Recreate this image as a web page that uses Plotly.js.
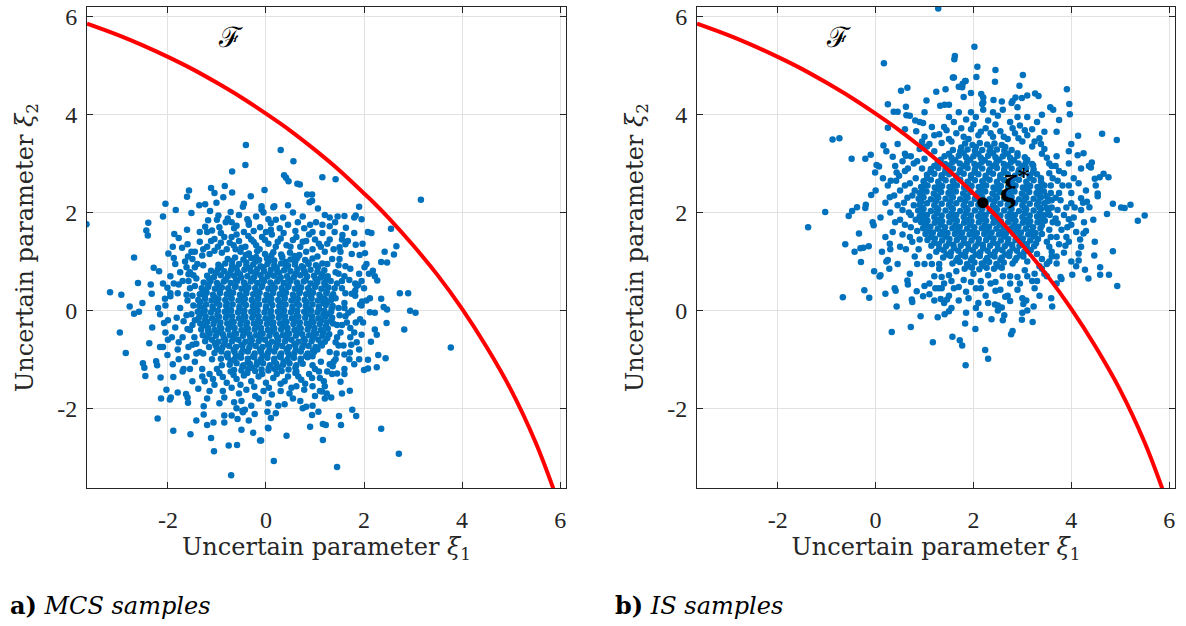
<!DOCTYPE html>
<html><head><meta charset="utf-8">
<script src="https://cdn.plot.ly/plotly-3.0.1.min.js"></script>
<style>html,body{margin:0;padding:0;background:#fff;}#chart{width:1186px;height:626px;}</style>
</head><body><div id="chart"></div>
<script>
// ---- Tick labels ----
const tickVals = [-2, 0, 2, 4, 6];
const tickText = ["-2", "0", "2", "4", "6"];

// ---- Limit-state boundary ----
const curveX = [-3.65,-3,-2.5,-2,-1.5,-1,-0.5,0,0.5,1,1.5,2,2.2,2.5,3,3.5,4,4.5,5,5.5,5.86];
const curveY = [5.86,5.62,5.41,5.18,4.93,4.65,4.35,4.02,3.67,3.28,2.86,2.39,2.2,1.89,1.33,0.72,0.03,-0.75,-1.63,-2.70,-3.64];

// ---- Design point ----
const designX = [2.19];
const designY = [2.2];

// ---- a) MCS samples [xi1, xi2] ----
const mcsPoints = [
[-3.66,1.76],[-0.41,3.38],[-0.42,2.97],[-0.69,2.84],[-0.84,2.54],[-1.57,2.45],[-1.61,2.32],[-1.12,2.50],[-1.05,2.40],[-0.69,2.41],[-0.03,2.46],[-0.31,2.33],[-2.05,2.18],[-1.84,2.05],[-2.10,1.92],[-2.40,1.79],[-2.44,1.63],[-2.41,1.53],[-2.69,1.08],[-2.29,0.87],[-2.18,0.80],[-2.61,0.56],[-3.18,0.37],[-2.95,0.32],[-2.78,0.08],[-2.52,0.15],[-2.69,-0.07],[-2.59,-0.03],[-2.33,0.34],[-2.35,0.53],[-1.99,1.16],[-1.88,1.07],[-1.87,1.56],[-1.78,1.48],[-1.52,1.99],[-1.36,2.15],[-1.24,2.17],[-1.14,2.03],[-1.01,2.20],[-0.87,2.31],[-0.97,1.94],[-0.82,1.80],[-0.72,2.01],[-0.47,2.12],[-0.45,2.18],[-0.09,2.06],[-0.09,2.13],[0.15,2.11],[0.17,2.13],[0.05,1.86],[-0.35,1.80],[-0.38,1.86],[-0.60,1.73],[-0.65,1.68],[-1.18,1.84],[-1.24,1.71],[-1.10,1.63],[-1.61,1.65],[-1.71,1.28],[-1.59,1.10],[-1.55,0.78],[-1.58,0.74],[-1.78,0.53],[-2.01,0.46],[-1.95,0.29],[-2.16,-0.08],[-2.06,0.24],
[-2.98,-0.45],[-2.86,-0.87],[-2.32,-0.35],[-2.38,-0.67],[-2.16,-0.75],[-2.10,-0.75],[-2.51,-1.08],[-2.48,-1.17],[-2.46,-1.34],[-2.24,-1.04],[-2.22,-1.12],[-2.15,-1.37],[-2.03,-1.62],[-2.14,-1.80],[-1.96,-1.82],[-1.94,-1.78],[-2.21,-2.21],[-1.89,-2.46],[-1.54,-2.53],[-1.80,-1.68],[-1.63,-1.71],[-1.60,-1.78],[-1.59,-1.89],[-1.42,-2.25],[-1.27,-2.13],[-1.20,-2.34],[-1.27,-1.96],[-1.07,-2.29],[-1.12,-2.61],[-1.06,-2.88],[-0.85,-2.15],[-0.85,-2.29],[-0.76,-2.76],[-0.71,-3.37],[-0.59,-2.75],[-0.70,-2.15],[-0.50,-2.44],[-0.58,-2.22],[-0.47,-2.08],[-0.43,-2.03],[-0.26,-2.50],[-0.12,-2.66],[0.05,-2.41],[0.16,-3.08],[0.03,-2.07],[-0.23,-2.12],[-1.89,-1.36],[-2.01,-0.91],[-2.05,-0.45],[-2.08,-0.26],
[0.30,3.28],[0.56,3.05],[0.37,2.76],[0.46,2.64],[0.64,2.59],[0.69,2.57],[1.15,2.72],[1.42,2.68],[0.41,2.71],[0.84,2.37],[0.94,2.37],[0.94,2.24],[0.89,2.21],[1.06,2.08],[3.16,2.26],[1.90,2.12],[1.83,1.94],[1.80,1.90],[1.60,1.93],[1.46,1.92],[1.95,1.86],[1.41,1.80],[2.55,1.67],[2.08,1.60],[2.15,1.58],[1.63,1.69],[1.80,1.58],[1.56,1.54],[2.66,1.31],[2.42,1.20],[2.61,1.14],[2.47,0.98],[2.35,0.99],[1.97,1.36],[1.83,1.34],[1.67,1.42],[1.50,1.29],[2.02,1.17],[1.91,1.13],[2.01,0.88],[2.18,0.81],[2.22,0.70],[2.27,0.61],[2.73,0.35],[2.90,0.35],[2.35,0.24],[2.40,0.07],[2.47,0.02],[2.94,-0.01],[3.05,-0.05],[2.12,0.25],[2.12,-0.04],[2.22,-0.05],[1.88,0.52],[1.82,0.55],[1.75,0.34],[1.82,0.40],[1.96,0.18],[1.92,0.12],
[2.82,-0.39],[3.77,-0.76],[2.46,-0.26],[2.22,-0.39],[2.26,-0.50],[2.14,-0.64],[2.29,-0.91],[2.44,-0.98],[2.26,-1.16],[2.08,-1.01],[2.00,-1.22],[2.08,-1.19],[1.71,-1.64],[1.76,-2.03],[1.84,-2.16],[1.49,-2.16],[1.53,-2.34],[2.35,-2.42],[2.71,-2.93],[1.45,-3.20],[1.16,-2.65],[0.90,-2.38],[1.16,-2.32],[1.22,-2.34],[0.42,-2.56],[0.04,-2.40],[-0.10,-2.66],[0.94,-2.14],[1.07,-2.07],[0.82,-1.97],[1.33,-1.78],[1.24,-1.70],[1.14,-1.66],[1.55,-1.70],[1.52,-1.46],[1.45,-1.29],[1.60,-1.20],[1.36,-1.14],[1.71,-0.86],[1.74,-0.70],[1.72,-0.36],[1.83,-0.25],[1.68,-0.05],[1.92,-0.18],
[-1.2,1.3],[-1.05,1.22],[-0.92,1.38],[-0.8,1.25],[-0.66,1.33],[-0.7,1.5],[-0.55,1.42],[-0.42,1.3],[-0.3,1.45],[-0.2,1.33],[-0.08,1.5],[0.05,1.36],[0.2,1.3],[0.12,1.55],[0.3,1.47],[0.42,1.33],[0.55,1.44],[0.7,1.3],[0.82,1.42],[0.95,1.25],[1.08,1.36],[1.2,1.2],[1.3,1.45],[1.15,1.58],[0.95,1.6],[0.78,1.68],[0.6,1.62],[0.45,1.75],[0.28,1.68],[0.1,1.78],[-0.12,1.7],[-0.25,1.62],[-0.45,1.6],[-0.92,1.58],[-1.05,1.46],[-1.35,1.4],[-1.45,1.2],[0.35,1.9],[0.75,1.92],[1.02,1.8],[1.3,1.72],[-0.55,1.95],[-0.2,1.92],[0.55,2.0],[1.2,1.95],
[-1.15,-1.3],[-1.0,-1.2],[-0.88,-1.36],[-0.72,-1.25],[-0.6,-1.4],[-0.45,-1.33],[-0.3,-1.45],[-0.15,-1.35],[0.0,-1.48],[0.15,-1.38],[0.3,-1.5],[0.45,-1.35],[0.6,-1.28],[0.72,-1.42],[0.88,-1.3],[1.0,-1.2],[1.1,-1.38],[1.25,-1.25],[0.95,-1.55],[0.78,-1.62],[0.62,-1.55],[0.48,-1.7],[0.3,-1.65],[0.12,-1.72],[-0.05,-1.65],[-0.22,-1.75],[-0.4,-1.62],[-0.55,-1.7],[-0.7,-1.58],[-0.88,-1.65],[-1.05,-1.52],[-1.25,-1.45],[-1.38,-1.6],[-1.2,-1.8],[-0.95,-1.9],[-0.65,-1.88],[-0.3,-1.95],[0.05,-1.9],[0.38,-1.92],[0.7,-1.85],[1.0,-1.75],[1.2,-1.55],[-0.48,-2.05],[0.2,-2.1],
[-1.5,1.05],[-1.62,0.88],[-1.48,0.72],[-1.7,0.6],[-1.55,0.45],[-1.8,0.35],[-1.6,0.2],[-1.75,0.05],[-1.52,-0.08],[-1.68,-0.22],[-1.85,-0.35],[-1.55,-0.4],[-1.7,-0.55],[-1.5,-0.7],[-1.8,-0.8],[-1.62,-0.95],[-1.45,-1.05],[-1.9,-1.1],[-1.3,-1.2],[-1.95,0.7],[-2.05,0.1],[-1.92,-0.55],[-1.4,0.95],[-1.35,-0.85],
[1.5,1.05],[1.62,0.9],[1.48,0.75],[1.7,0.62],[1.55,0.45],[1.82,0.3],[1.6,0.15],[1.75,0.0],[1.5,-0.1],[1.65,-0.25],[1.52,-0.45],[1.72,-0.55],[1.48,-0.72],[1.6,-0.9],[1.42,-1.0],[1.8,-1.1],[1.3,-1.1],[1.9,0.75],[2.0,0.45],[1.95,-0.5],[1.42,0.25],[1.45,-0.3],
[-1.12,1.42],[-0.98,1.3],[-0.85,1.5],[-0.74,1.38],[-0.6,1.55],[-0.5,1.28],[-0.36,1.52],[-0.25,1.4],[-0.13,1.25],[-0.02,1.44],[0.1,1.65],[0.24,1.4],[0.36,1.58],[0.5,1.3],[0.62,1.5],[0.75,1.4],[0.88,1.55],[1.0,1.45],[1.12,1.3],[1.25,1.36],[1.38,1.25],[-1.28,1.25],[-0.95,1.7],[-0.35,1.75],[0.2,1.85],[0.9,1.75],[-0.7,1.8],[-1.2,1.6],[1.4,1.6],[0.0,1.6],
[-1.08,-1.4],[-0.95,-1.28],[-0.8,-1.48],[-0.66,-1.32],[-0.52,-1.52],[-0.38,-1.28],[-0.24,-1.56],[-0.08,-1.3],[0.06,-1.58],[0.22,-1.3],[0.38,-1.45],[0.52,-1.58],[0.66,-1.35],[0.8,-1.5],[0.94,-1.38],[1.08,-1.25],[1.18,-1.45],[1.35,-1.3],[-1.3,-1.35],[-0.85,-1.78],[-0.15,-1.8],[0.55,-1.8],[1.1,-1.65],[-0.5,-1.85],[0.25,-1.95],
[-1.45,0.88],[-1.58,0.6],[-1.45,0.5],[-1.62,0.32],[-1.48,0.1],[-1.62,-0.1],[-1.45,-0.2],[-1.6,-0.38],[-1.46,-0.55],[-1.58,-0.75],[-1.42,-0.88],[-1.52,1.2],[-1.75,0.78],[-1.82,-0.15],[-1.78,-0.65],[-1.68,-1.2],[-1.88,0.55],[-1.55,-1.2],[-2.0,-0.2],[-1.95,0.35],
[1.48,0.92],[1.6,0.7],[1.45,0.55],[1.62,0.35],[1.48,0.05],[1.62,-0.12],[1.45,-0.55],[1.58,-0.72],[1.44,-0.88],[1.52,1.2],[1.72,0.85],[1.85,0.5],[1.8,-0.45],[1.7,-1.0],[1.95,0.1],[1.62,1.35],[1.35,1.05],[1.38,-1.05],[2.05,0.95],[1.9,-0.8],
[-1.3,1.12],[-1.15,1.15],[-0.9,1.18],[-0.62,1.25],[0.82,1.2],[1.05,1.1],[1.25,0.95],[1.42,0.78],[1.55,0.6],[1.6,0.05],[1.55,-0.3],[1.42,-0.65],[1.3,-0.85],[1.12,-1.05],[0.95,-1.12],[0.62,-1.25],[-0.65,-1.22],[-0.9,-1.12],[-1.1,-1.0],[-1.28,-0.88],[-1.42,-0.68],[-1.5,-0.3],[-1.5,0.3],[-1.42,0.65],[-1.28,0.92],
[-1.65,1.0],[-1.35,1.6],[-0.78,1.88],[-0.05,2.0],[0.65,1.8],[1.15,1.75],[1.55,1.45],[1.75,1.15],[1.95,0.6],[2.05,0.2],[1.98,-0.25],[1.85,-0.65],[1.6,-1.3],[1.2,-1.8],[0.75,-2.0],[0.1,-2.2],[-0.6,-2.0],[-1.15,-1.65],[-1.5,-1.45],[-1.78,-1.0],[-2.0,-0.6],[-2.1,0.55],[-1.85,0.95],[-1.6,1.35],[-1.0,1.85],[0.45,2.15],[1.3,1.9],[2.1,0.75],[1.9,-1.0],[0.95,-1.95],[-0.35,-2.25],[-1.7,-1.25],[-2.2,0.05],[-1.9,1.3],
[-0.52,1.2],[-0.35,1.16],[-0.18,1.21],[-0.02,1.15],[0.15,1.19],[0.31,1.14],[0.49,1.18],[0.68,1.13],
[-0.78,1.05],[-0.63,1.08],[-0.46,1.04],[-0.3,1.07],[-0.14,1.03],[0.02,1.06],[0.17,1.02],[0.33,1.08],[0.5,1.04],[0.64,1.07],[0.8,1.03],[0.95,1.06],
[-0.97,0.93],[-0.83,0.96],[-0.69,0.92],[-0.55,0.95],[-0.4,0.91],[-0.26,0.94],[-0.11,0.9],[0.03,0.95],[0.17,0.92],[0.31,0.96],[0.45,0.91],[0.59,0.94],[0.73,0.9],[0.87,0.95],[1.02,0.92],[1.15,0.96],
[-1.12,0.81],[-0.98,0.84],[-0.85,0.8],[-0.71,0.83],[-0.58,0.79],[-0.44,0.83],[-0.31,0.8],[-0.18,0.84],[-0.04,0.8],[0.1,0.83],[0.23,0.79],[0.37,0.82],[0.5,0.8],[0.64,0.84],[0.78,0.8],[0.91,0.83],[1.05,0.79],[1.19,0.82],
[-1.2,0.71],[-1.06,0.68],[-0.92,0.72],[-0.78,0.69],[-0.65,0.71],[-0.51,0.67],[-0.38,0.7],[-0.24,0.68],[-0.11,0.72],[0.03,0.69],[0.16,0.71],[0.3,0.67],[0.43,0.7],[0.57,0.68],[0.7,0.72],[0.84,0.69],[0.98,0.71],[1.12,0.67],[1.26,0.7],
[-1.27,0.57],[-1.13,0.6],[-1.0,0.56],[-0.86,0.59],[-0.72,0.56],[-0.59,0.6],[-0.45,0.57],[-0.31,0.59],[-0.18,0.56],[-0.04,0.6],[0.09,0.57],[0.23,0.59],[0.36,0.56],[0.5,0.6],[0.63,0.57],[0.77,0.59],[0.91,0.55],[1.05,0.58],[1.19,0.56],[1.32,0.6],
[-1.31,0.45],[-1.18,0.48],[-1.04,0.44],[-0.9,0.47],[-0.77,0.45],[-0.63,0.48],[-0.5,0.44],[-0.36,0.47],[-0.22,0.45],[-0.09,0.48],[0.05,0.44],[0.18,0.47],[0.32,0.45],[0.45,0.48],[0.59,0.44],[0.72,0.47],[0.86,0.45],[1.0,0.48],[1.13,0.44],[1.27,0.47],[1.4,0.45],
[-1.35,0.33],[-1.21,0.36],[-1.08,0.32],[-0.94,0.35],[-0.8,0.33],[-0.67,0.36],[-0.53,0.32],[-0.4,0.35],[-0.26,0.33],[-0.13,0.36],[0.01,0.32],[0.14,0.35],[0.28,0.33],[0.41,0.36],[0.55,0.32],[0.68,0.35],[0.82,0.33],[0.96,0.36],[1.09,0.32],[1.23,0.35],[1.37,0.33],
[-1.38,0.21],[-1.24,0.24],[-1.11,0.2],[-0.97,0.23],[-0.83,0.21],[-0.7,0.24],[-0.56,0.2],[-0.43,0.23],[-0.29,0.21],[-0.16,0.24],[-0.02,0.2],[0.11,0.23],[0.25,0.21],[0.38,0.24],[0.52,0.2],[0.65,0.23],[0.79,0.21],[0.93,0.24],[1.06,0.2],[1.2,0.23],[1.33,0.21],
[-1.36,0.09],[-1.22,0.12],[-1.09,0.08],[-0.95,0.11],[-0.81,0.09],[-0.68,0.12],[-0.54,0.08],[-0.41,0.11],[-0.27,0.09],[-0.14,0.12],[0.0,0.08],[0.13,0.11],[0.27,0.09],[0.4,0.12],[0.54,0.08],[0.67,0.11],[0.81,0.09],[0.95,0.12],[1.08,0.08],[1.22,0.11],[1.36,0.09],
[-1.39,-0.03],[-1.25,0.0],[-1.12,-0.04],[-0.98,-0.01],[-0.84,-0.03],[-0.71,0.0],[-0.57,-0.04],[-0.44,-0.01],[-0.3,-0.03],[-0.17,0.0],[-0.03,-0.04],[0.1,-0.01],[0.24,-0.03],[0.37,0.0],[0.51,-0.04],[0.64,-0.01],[0.78,-0.03],[0.92,0.0],[1.05,-0.04],[1.19,-0.01],[1.33,-0.03],
[-1.37,-0.15],[-1.23,-0.12],[-1.1,-0.16],[-0.96,-0.13],[-0.82,-0.15],[-0.69,-0.12],[-0.55,-0.16],[-0.42,-0.13],[-0.28,-0.15],[-0.15,-0.12],[-0.01,-0.16],[0.12,-0.13],[0.26,-0.15],[0.39,-0.12],[0.53,-0.16],[0.66,-0.13],[0.8,-0.15],[0.94,-0.12],[1.07,-0.16],[1.21,-0.13],[1.35,-0.15],
[-1.34,-0.27],[-1.2,-0.24],[-1.07,-0.28],[-0.93,-0.25],[-0.79,-0.27],[-0.66,-0.24],[-0.52,-0.28],[-0.39,-0.25],[-0.25,-0.27],[-0.12,-0.24],[0.02,-0.28],[0.15,-0.25],[0.29,-0.27],[0.42,-0.24],[0.56,-0.28],[0.69,-0.25],[0.83,-0.27],[0.97,-0.24],[1.1,-0.28],[1.24,-0.25],[1.37,-0.27],
[-1.32,-0.39],[-1.18,-0.36],[-1.05,-0.4],[-0.91,-0.37],[-0.77,-0.39],[-0.64,-0.36],[-0.5,-0.4],[-0.37,-0.37],[-0.23,-0.39],[-0.1,-0.36],[0.04,-0.4],[0.17,-0.37],[0.31,-0.39],[0.44,-0.36],[0.58,-0.4],[0.71,-0.37],[0.85,-0.39],[0.99,-0.36],[1.12,-0.4],[1.26,-0.37],
[-1.29,-0.51],[-1.15,-0.48],[-1.02,-0.52],[-0.88,-0.49],[-0.74,-0.51],[-0.61,-0.48],[-0.47,-0.52],[-0.34,-0.49],[-0.2,-0.51],[-0.07,-0.48],[0.07,-0.52],[0.2,-0.49],[0.34,-0.51],[0.47,-0.48],[0.61,-0.52],[0.74,-0.49],[0.88,-0.51],[1.02,-0.48],[1.15,-0.52],[1.29,-0.49],
[-1.24,-0.63],[-1.1,-0.6],[-0.97,-0.64],[-0.83,-0.61],[-0.69,-0.63],[-0.56,-0.6],[-0.42,-0.64],[-0.29,-0.61],[-0.15,-0.63],[-0.02,-0.6],[0.12,-0.64],[0.25,-0.61],[0.39,-0.63],[0.52,-0.6],[0.66,-0.64],[0.79,-0.61],[0.93,-0.63],[1.07,-0.6],[1.2,-0.64],
[-1.16,-0.75],[-1.02,-0.72],[-0.89,-0.76],[-0.75,-0.73],[-0.61,-0.75],[-0.48,-0.72],[-0.34,-0.76],[-0.21,-0.73],[-0.07,-0.75],[0.06,-0.72],[0.2,-0.76],[0.33,-0.73],[0.47,-0.75],[0.6,-0.72],[0.74,-0.76],[0.87,-0.73],[1.01,-0.75],[1.14,-0.72],
[-1.05,-0.87],[-0.91,-0.84],[-0.78,-0.88],[-0.64,-0.85],[-0.5,-0.87],[-0.37,-0.84],[-0.23,-0.88],[-0.1,-0.85],[0.04,-0.87],[0.17,-0.84],[0.31,-0.88],[0.44,-0.85],[0.58,-0.87],[0.71,-0.84],[0.85,-0.88],[0.98,-0.85],
[-0.92,-0.99],[-0.78,-0.96],[-0.64,-1.0],[-0.51,-0.97],[-0.37,-0.99],[-0.24,-0.96],[-0.1,-1.0],[0.03,-0.97],[0.17,-0.99],[0.3,-0.96],[0.44,-1.0],[0.57,-0.97],[0.71,-0.99],[0.85,-0.96],
[-0.74,-1.11],[-0.6,-1.08],[-0.46,-1.12],[-0.33,-1.09],[-0.19,-1.11],[-0.06,-1.08],[0.08,-1.12],[0.21,-1.09],[0.35,-1.11],[0.48,-1.08],[0.62,-1.12],[0.75,-1.09],
[-0.5,-1.23],[-0.36,-1.2],[-0.22,-1.24],[-0.09,-1.21],[0.05,-1.23],[0.18,-1.2],[0.32,-1.24],[0.46,-1.21],
[-0.41,1.13],[-0.2,1.09],[0.11,1.12],[0.33,1.1],[0.58,1.11],
[-0.69,1.01],[-0.4,0.98],[-0.21,1.0],[0.06,1.01],[0.41,0.99],[0.6,1.0],[0.86,0.98],
[-0.92,0.89],[-0.6,0.87],[-0.33,0.86],[-0.05,0.88],[0.22,0.87],[0.41,0.89],[0.76,0.87],[1.06,0.88],
[-1.02,0.77],[-0.74,0.75],[-0.53,0.74],[-0.2,0.76],[0.08,0.75],[0.27,0.77],[0.61,0.75],[0.8,0.76],[1.15,0.74],
[-1.16,0.65],[-0.82,0.63],[-0.61,0.62],[-0.27,0.64],[-0.08,0.63],[0.27,0.65],[0.46,0.63],[0.81,0.62],[1.01,0.64],[1.24,0.63],
[-1.17,0.53],[-0.96,0.51],[-0.62,0.5],[-0.42,0.52],[-0.08,0.51],[0.12,0.53],[0.46,0.51],[0.66,0.5],[1.01,0.52],[1.21,0.51],
[-1.28,0.41],[-0.94,0.39],[-0.74,0.38],[-0.4,0.4],[-0.19,0.39],[0.15,0.41],[0.35,0.39],[0.69,0.38],[0.89,0.4],[1.24,0.39],
[-1.25,0.29],[-1.05,0.27],[-0.71,0.26],[-0.5,0.28],[-0.16,0.27],[0.04,0.29],[0.38,0.27],[0.58,0.26],[0.92,0.28],[1.12,0.27],[1.34,0.28],
[-1.34,0.17],[-1.0,0.15],[-0.8,0.14],[-0.46,0.16],[-0.25,0.15],[0.09,0.17],[0.29,0.15],[0.63,0.14],[0.83,0.16],[1.17,0.15],[1.25,0.16],
[-1.28,0.05],[-1.08,0.03],[-0.74,0.02],[-0.54,0.04],[-0.2,0.03],[0.0,0.05],[0.34,0.03],[0.54,0.02],[0.88,0.04],[1.08,0.03],[1.34,0.04],
[-1.33,-0.07],[-0.99,-0.09],[-0.79,-0.1],[-0.45,-0.08],[-0.25,-0.09],[0.09,-0.07],[0.29,-0.09],[0.63,-0.1],[0.83,-0.08],[1.17,-0.09],[1.25,-0.08],
[-1.24,-0.19],[-1.04,-0.21],[-0.7,-0.22],[-0.5,-0.2],[-0.16,-0.21],[0.04,-0.19],[0.38,-0.21],[0.58,-0.22],[0.93,-0.2],[1.12,-0.21],[1.33,-0.2],
[-1.28,-0.31],[-0.94,-0.33],[-0.74,-0.34],[-0.4,-0.32],[-0.2,-0.33],[0.14,-0.31],[0.34,-0.33],[0.68,-0.34],[0.88,-0.32],[1.22,-0.33],
[-1.18,-0.43],[-0.98,-0.45],[-0.64,-0.46],[-0.44,-0.44],[-0.1,-0.45],[0.1,-0.43],[0.44,-0.45],[0.64,-0.46],[0.98,-0.44],[1.17,-0.45],
[-1.2,-0.55],[-0.86,-0.57],[-0.66,-0.58],[-0.32,-0.56],[-0.12,-0.57],[0.23,-0.55],[0.42,-0.57],[0.77,-0.58],[0.96,-0.56],[1.25,-0.57],
[-1.04,-0.67],[-0.85,-0.69],[-0.5,-0.7],[-0.31,-0.68],[0.04,-0.69],[0.23,-0.67],[0.58,-0.69],[0.77,-0.7],[1.12,-0.68],
[-1.0,-0.79],[-0.66,-0.81],[-0.47,-0.82],[-0.12,-0.8],[0.07,-0.81],[0.42,-0.79],[0.61,-0.81],[0.96,-0.82],[1.05,-0.8],
[-0.8,-0.91],[-0.61,-0.93],[-0.26,-0.94],[-0.07,-0.92],[0.28,-0.93],[0.47,-0.91],[0.82,-0.93],[0.95,-0.94],
[-0.72,-1.03],[-0.37,-1.05],[-0.18,-1.06],[0.17,-1.04],[0.36,-1.05],[0.71,-1.03],
[-0.48,-1.15],[-0.29,-1.17],[0.06,-1.18],[0.25,-1.16],[0.6,-1.17]
];

// ---- b) IS samples [xi1, xi2] ----
const isPoints = [
[1.28,6.17],[2.02,5.39],[1.62,5.20],[1.61,5.13],[0.17,5.05],[2.08,4.98],[2.06,4.77],[1.60,4.76],[1.84,4.69],[1.70,4.57],[1.43,4.52],[1.24,4.47],[0.65,4.55],[0.52,4.49],[1.04,4.29],[1.41,4.20],[1.32,4.18],[0.25,4.21],[0.37,4.06],[0.45,4.06],[0.62,4.16],[0.63,3.99],[0.70,3.98],[-0.88,3.49],[-0.74,3.52],[-0.49,3.10],[-0.21,3.10],[-0.10,3.18],[0.16,3.37],[0.22,3.25],[0.02,2.97],[0.07,2.94],[-0.01,2.82],[-0.09,2.36],[0.35,3.14],[0.31,2.65],[0.29,2.31],[0.43,2.82],[0.62,3.16],[0.25,3.73],[0.83,3.66],[0.81,3.88],[0.9,3.85],[0.97,3.83],
[2.45,4.91],[2.44,4.67],[3.01,4.81],[2.94,4.59],[3.91,4.52],[3.26,4.43],[3.33,4.38],[3.96,4.22],[3.97,4.01],[3.75,3.89],[3.57,4.15],[3.63,4.10],[4.63,3.61],[4.93,3.48],[4.14,3.57],[4.25,3.21],[4.13,3.17],[4.42,3.02],[4.36,2.95],[4.40,2.92],[4.76,2.72],[4.66,2.79],[4.58,2.72],[4.48,2.69],[4.85,2.18],[4.54,2.39],[4.54,2.33],[4.32,2.22],[4.37,2.11],[4.24,2.20],[4.20,2.29],[5.09,2.09],[5.21,2.16],[5.02,2.10],[4.73,1.97],[5.50,1.94],[5.36,1.83],
[1.83,4.69],[1.77,4.56],[1.95,4.44],[2.16,4.42],[2.20,4.35],[2.18,4.22],[2.41,4.30],[2.58,4.27],[2.78,4.24],[2.80,4.28],[2.86,4.35],[2.99,4.34],[3.10,4.39],[1.78,4.63],[1.80,4.36],[1.58,4.76],
[-1.03,2.01],[-1.38,1.70],[-0.55,1.93],[-0.48,2.03],[-0.38,2.11],[-0.2,2.16],[-0.21,2.09],[-0.62,1.35],[-0.34,1.57],[-0.43,1.20],[-0.31,1.27],[-0.25,1.28],[-0.14,1.31],[-0.30,0.99],[-0.06,1.80],[-0.04,1.74],[-0.67,0.27],[-0.23,0.41],[-0.13,0.26],[-0.03,0.80],[0.08,0.69],[0.10,0.72],[0.13,1.20],[0.22,1.00],[0.25,1.03],[0.28,0.85],[0.29,1.36],[0.20,0.34],[0.39,0.45],[0.41,0.40],[0.43,0.08],[0.33,-0.44],[0.72,-0.34],[0.92,-0.12],[1.17,-0.65],[1.27,-0.14],[1.41,-0.08],[1.57,-0.54],[1.72,-0.61],[1.77,-0.72],[1.84,-1.12],[1.50,-0.02],[1.55,0.05],[2.04,-0.38],[2.24,-0.81],[2.30,-0.99],[1.83,-0.27],[2.13,-0.09],[0.65,0.61],[0.66,0.53],[0.74,0.22],[0.75,0.17],[0.84,0.39],[0.97,0.29],[1.10,0.33],[1.22,0.45],[1.29,0.45],[1.35,0.45],[1.46,0.22],[1.33,0.23],
[4.85,1.21],[4.94,0.50],[4.77,0.73],[4.59,0.88],[4.59,0.73],[4.48,1.40],[4.47,1.12],[4.28,0.83],[4.35,0.65],[4.15,1.16],[4.15,1.02],[4.10,0.90],[4.02,0.73],[3.85,1.18],[3.70,0.96],[3.59,0.25],[3.61,0.08],[3.78,0.68],[3.80,0.64],[3.23,0.08],[3.21,-0.24],[2.99,-0.19],[2.80,-0.42],[2.77,-0.49],[3.10,0.00],[3.02,0.13],[3.08,0.20],[2.75,0.19],[2.37,-0.18],[2.5,0.0],[2.58,0.06],[2.44,0.12],[2.63,-0.1],
[4.07,2.10],[4.00,2.19],[3.95,1.86],[4.0,1.75],[3.92,1.70],[4.26,1.80],[4.25,1.57],[4.30,1.62],[4.18,1.45],[3.95,1.40],[3.88,1.32],[3.6,1.1],[3.55,1.0],[3.4,0.85],[3.5,0.7],[3.3,0.6],[3.25,0.75],
[1.5,3.5],[1.65,3.62],[1.8,3.55],[1.95,3.7],[2.1,3.58],[2.25,3.72],[2.4,3.55],[2.55,3.66],[2.7,3.5],[2.85,3.62],[3.0,3.45],[3.1,3.58],[1.35,3.42],[1.2,3.58],[1.4,3.75],[1.6,3.85],[1.85,3.9],[2.05,3.95],[2.3,3.88],[2.5,3.98],[2.75,3.85],[2.95,3.78],[3.2,3.7],[3.35,3.52],[1.1,3.4],[1.0,3.55],[2.6,4.1],[2.2,4.1],[1.7,4.05],[3.1,3.95],
[1.3,0.85],[1.5,0.72],[1.65,0.8],[1.8,0.62],[2.0,0.75],[2.15,0.6],[2.3,0.72],[2.45,0.58],[2.6,0.7],[2.75,0.55],[2.9,0.68],[3.05,0.82],[3.2,0.6],[1.4,0.55],[1.6,0.45],[1.85,0.38],[2.05,0.45],[2.25,0.3],[2.45,0.4],[2.65,0.28],[2.9,0.42],[1.7,0.2],[2.1,0.15],[2.5,0.1],[1.2,0.7],[3.35,0.9],[1.0,0.95],
[0.8,1.1],[0.62,1.25],[0.75,1.4],[0.55,1.55],[0.72,1.7],[0.5,1.85],[0.68,2.0],[0.45,2.15],[0.65,2.3],[0.5,2.45],[0.7,2.6],[0.48,2.75],[0.66,2.9],[0.85,3.05],[0.6,3.2],[0.9,3.3],[0.35,1.6],[0.3,2.0],[0.25,2.55],[0.4,2.95],[0.85,0.95],[0.95,3.35],
[3.6,1.2],[3.75,1.35],[3.58,1.5],[3.8,1.65],[3.62,1.8],[3.85,1.95],[3.6,2.1],[3.78,2.25],[3.58,2.4],[3.82,2.55],[3.62,2.7],[3.75,2.85],[3.55,3.0],[3.7,3.15],[3.45,3.3],[4.0,2.4],[4.05,2.7],[3.95,3.0],[4.1,1.6],[3.4,1.05],[3.5,0.95],[4.2,2.05],[3.95,3.25],
[1.3,3.6],[1.45,3.68],[1.55,3.45],[1.75,3.72],[1.9,3.5],[2.0,3.8],[2.15,3.65],[2.35,3.62],[2.45,3.8],[2.62,3.55],[2.8,3.72],[2.92,3.52],[3.05,3.68],[3.25,3.45],[1.15,3.75],[1.5,3.95],[2.4,4.05],[2.9,3.95],[3.3,3.85],[1.95,4.05],[3.45,3.65],[1.05,3.35],
[1.15,0.95],[1.35,0.68],[1.55,0.6],[1.7,0.48],[1.95,0.58],[2.15,0.45],[2.35,0.55],[2.55,0.42],[2.75,0.7],[2.95,0.55],[3.1,0.7],[3.25,0.45],[1.5,0.3],[1.9,0.25],[2.3,0.15],[2.7,0.3],[3.0,0.25],[1.1,0.55],[3.45,0.75],[2.05,0.05],
[0.88,1.25],[0.7,1.5],[0.85,1.62],[0.6,1.75],[0.82,1.85],[0.55,2.05],[0.78,2.15],[0.58,2.2],[0.8,2.45],[0.6,2.55],[0.82,2.7],[0.6,2.85],[0.78,3.0],[0.72,3.15],[0.4,1.8],[0.38,2.35],[0.42,2.65],[0.2,2.2],[0.5,1.3],[0.55,3.05],[0.95,3.45],
[3.55,1.3],[3.7,1.5],[3.55,1.65],[3.72,1.78],[3.56,1.95],[3.72,2.05],[3.6,2.25],[3.75,2.4],[3.58,2.55],[3.72,2.65],[3.55,2.8],[3.68,2.95],[3.5,3.12],[3.9,2.1],[3.95,2.55],[3.9,1.5],[4.05,1.9],[3.85,2.8],[3.38,3.4],[3.7,1.1],[4.15,2.6],
[0.95,2.9],[0.9,1.45],[1.1,1.1],[1.3,0.95],[3.1,1.0],[3.3,1.15],[3.5,1.4],[3.6,2.95],[3.4,3.2],[3.2,3.35],[1.2,3.25],[1.0,3.1],[0.75,2.35],[0.72,1.95],[3.68,2.3],[3.68,1.88],
[0.3,1.25],[0.45,0.95],[0.7,0.75],[1.0,0.5],[1.4,0.15],[1.85,-0.05],[2.6,-0.2],[3.35,0.3],[3.7,0.55],[4.0,1.0],[4.2,1.3],[4.3,2.45],[4.2,2.9],[4.0,3.4],[3.7,3.65],[3.4,4.0],[2.9,4.15],[2.2,4.25],[1.5,4.2],[1.0,4.05],[0.6,3.7],[0.45,3.4],[0.15,2.7],[0.1,1.9],[0.2,1.5],[4.45,1.85],[4.5,2.55],[0.0,2.45],[1.2,0.2],[3.0,-0.05],
[1.83,3.41],[1.98,3.38],[2.13,3.42],[2.28,3.39],[2.43,3.41],[2.58,3.38],
[1.58,3.28],[1.73,3.25],[1.88,3.29],[2.03,3.26],[2.18,3.28],[2.33,3.25],[2.48,3.29],[2.63,3.26],[2.78,3.28],
[1.41,3.15],[1.55,3.12],[1.7,3.16],[1.85,3.13],[2.0,3.15],[2.15,3.12],[2.3,3.16],[2.45,3.13],[2.6,3.15],[2.75,3.12],[2.9,3.16],[3.05,3.13],
[1.27,3.02],[1.42,2.99],[1.57,3.03],[1.72,3.0],[1.87,3.02],[2.02,2.99],[2.17,3.03],[2.32,3.0],[2.47,3.02],[2.62,2.99],[2.77,3.03],[2.92,3.0],[3.07,3.02],[3.2,2.99],
[1.13,2.89],[1.28,2.91],[1.43,2.88],[1.58,2.9],[1.73,2.87],[1.88,2.91],[2.03,2.88],[2.18,2.9],[2.33,2.87],[2.48,2.91],[2.63,2.88],[2.78,2.9],[2.93,2.87],[3.08,2.91],[3.23,2.88],
[1.05,2.77],[1.2,2.79],[1.35,2.76],[1.5,2.78],[1.65,2.75],[1.8,2.79],[1.95,2.76],[2.1,2.78],[2.25,2.75],[2.4,2.79],[2.55,2.76],[2.7,2.78],[2.85,2.75],[3.0,2.79],[3.15,2.76],[3.3,2.78],
[0.98,2.64],[1.13,2.67],[1.28,2.63],[1.43,2.66],[1.58,2.64],[1.73,2.67],[1.88,2.63],[2.03,2.66],[2.18,2.64],[2.33,2.67],[2.48,2.63],[2.63,2.66],[2.78,2.64],[2.93,2.67],[3.08,2.63],[3.23,2.66],[3.38,2.64],
[0.93,2.52],[1.06,2.55],[1.21,2.51],[1.36,2.54],[1.51,2.52],[1.66,2.55],[1.81,2.51],[1.96,2.54],[2.11,2.52],[2.26,2.55],[2.41,2.51],[2.56,2.54],[2.71,2.52],[2.86,2.55],[3.01,2.51],[3.16,2.54],[3.31,2.52],[3.45,2.55],
[0.9,2.4],[1.04,2.43],[1.19,2.39],[1.34,2.42],[1.49,2.4],[1.64,2.43],[1.79,2.39],[1.94,2.42],[2.09,2.4],[2.24,2.43],[2.39,2.39],[2.54,2.42],[2.69,2.4],[2.84,2.43],[2.99,2.39],[3.14,2.42],[3.29,2.4],[3.44,2.43],
[0.88,2.28],[0.98,2.31],[1.13,2.27],[1.28,2.3],[1.43,2.28],[1.58,2.31],[1.73,2.27],[1.88,2.3],[2.03,2.28],[2.18,2.31],[2.33,2.27],[2.48,2.3],[2.63,2.28],[2.78,2.31],[2.93,2.27],[3.08,2.3],[3.23,2.28],[3.38,2.31],[3.52,2.28],
[0.9,2.16],[1.05,2.19],[1.2,2.15],[1.35,2.18],[1.5,2.16],[1.65,2.19],[1.8,2.15],[1.95,2.18],[2.1,2.16],[2.25,2.19],[2.4,2.15],[2.55,2.18],[2.7,2.16],[2.85,2.19],[3.0,2.15],[3.15,2.18],[3.3,2.16],[3.45,2.19],
[0.87,2.04],[0.98,2.07],[1.13,2.03],[1.28,2.06],[1.43,2.04],[1.58,2.07],[1.73,2.03],[1.88,2.06],[2.03,2.04],[2.18,2.07],[2.33,2.03],[2.48,2.06],[2.63,2.04],[2.78,2.07],[2.93,2.03],[3.08,2.06],[3.23,2.04],[3.38,2.07],[3.53,2.04],
[0.9,1.92],[1.05,1.95],[1.2,1.91],[1.35,1.94],[1.5,1.92],[1.65,1.95],[1.8,1.91],[1.95,1.94],[2.1,1.92],[2.25,1.95],[2.4,1.91],[2.55,1.94],[2.7,1.92],[2.85,1.95],[3.0,1.91],[3.15,1.94],[3.3,1.92],[3.45,1.95],
[0.93,1.8],[1.06,1.83],[1.21,1.79],[1.36,1.82],[1.51,1.8],[1.66,1.83],[1.81,1.79],[1.96,1.82],[2.11,1.8],[2.26,1.83],[2.41,1.79],[2.56,1.82],[2.71,1.8],[2.86,1.83],[3.01,1.79],[3.16,1.82],[3.31,1.8],[3.46,1.83],
[0.97,1.68],[1.12,1.71],[1.27,1.67],[1.42,1.7],[1.57,1.68],[1.72,1.71],[1.87,1.67],[2.02,1.7],[2.17,1.68],[2.32,1.71],[2.47,1.67],[2.62,1.7],[2.77,1.68],[2.92,1.71],[3.07,1.67],[3.22,1.7],[3.37,1.68],
[1.02,1.56],[1.17,1.59],[1.32,1.55],[1.47,1.58],[1.62,1.56],[1.77,1.59],[1.92,1.55],[2.07,1.58],[2.22,1.56],[2.37,1.59],[2.52,1.55],[2.67,1.58],[2.82,1.56],[2.97,1.59],[3.12,1.55],[3.27,1.58],[3.4,1.56],
[1.06,1.44],[1.21,1.47],[1.36,1.43],[1.51,1.46],[1.66,1.44],[1.81,1.47],[1.96,1.43],[2.11,1.46],[2.26,1.44],[2.41,1.47],[2.56,1.43],[2.71,1.46],[2.86,1.44],[3.01,1.47],[3.16,1.43],[3.32,1.46],
[1.14,1.32],[1.29,1.35],[1.44,1.31],[1.59,1.34],[1.74,1.32],[1.89,1.35],[2.04,1.31],[2.19,1.34],[2.34,1.32],[2.49,1.35],[2.64,1.31],[2.79,1.34],[2.94,1.32],[3.09,1.35],[3.24,1.31],
[1.24,1.2],[1.39,1.23],[1.54,1.19],[1.69,1.22],[1.84,1.2],[1.99,1.23],[2.14,1.19],[2.29,1.22],[2.44,1.2],[2.59,1.23],[2.74,1.19],[2.89,1.22],[3.04,1.2],[3.17,1.23],
[1.38,1.08],[1.53,1.11],[1.68,1.07],[1.83,1.1],[1.98,1.08],[2.13,1.11],[2.28,1.07],[2.43,1.1],[2.58,1.08],[2.73,1.11],[2.88,1.07],[3.02,1.1],
[1.57,0.96],[1.72,0.99],[1.87,0.95],[2.02,0.98],[2.17,0.96],[2.32,0.99],[2.47,0.95],[2.62,0.98],[2.8,0.96],
[1.82,0.85],[1.97,0.87],[2.12,0.84],[2.27,0.87],[2.42,0.85],[2.58,0.87],
[1.75,3.33],[2.05,3.34],[2.35,3.33],[2.65,3.34],
[1.5,3.2],[1.8,3.21],[2.1,3.2],[2.4,3.21],[2.7,3.2],[2.9,3.21],
[1.33,3.08],[1.63,3.07],[1.93,3.08],[2.23,3.07],[2.53,3.08],[2.83,3.07],[3.1,3.08],
[1.2,2.95],[1.5,2.96],[1.8,2.95],[2.1,2.96],[2.4,2.95],[2.7,2.96],[3.0,2.95],[3.22,2.96],
[1.12,2.83],[1.42,2.82],[1.72,2.83],[2.02,2.82],[2.32,2.83],[2.62,2.82],[2.92,2.83],[3.22,2.82],
[1.05,2.7],[1.35,2.71],[1.65,2.7],[1.95,2.71],[2.25,2.7],[2.55,2.71],[2.85,2.7],[3.15,2.71],[3.38,2.7],
[1.0,2.58],[1.3,2.57],[1.6,2.58],[1.9,2.57],[2.2,2.58],[2.5,2.57],[2.8,2.58],[3.1,2.57],[3.4,2.58],
[0.97,2.46],[1.27,2.47],[1.57,2.46],[1.87,2.47],[2.17,2.46],[2.47,2.47],[2.77,2.46],[3.07,2.47],[3.37,2.46],
[0.95,2.34],[1.25,2.33],[1.55,2.34],[1.85,2.33],[2.15,2.34],[2.45,2.33],[2.75,2.34],[3.05,2.33],[3.35,2.34],[3.5,2.33],
[0.93,2.22],[1.23,2.23],[1.53,2.22],[1.83,2.23],[2.13,2.22],[2.43,2.23],[2.73,2.22],[3.03,2.23],[3.33,2.22],[3.52,2.23],
[0.95,2.1],[1.25,2.09],[1.55,2.1],[1.85,2.09],[2.15,2.1],[2.45,2.09],[2.75,2.1],[3.05,2.09],[3.35,2.1],[3.5,2.09],
[0.95,1.98],[1.25,1.99],[1.55,1.98],[1.85,1.99],[2.15,1.98],[2.45,1.99],[2.75,1.98],[3.05,1.99],[3.35,1.98],
[0.98,1.86],[1.28,1.85],[1.58,1.86],[1.88,1.85],[2.18,1.86],[2.48,1.85],[2.78,1.86],[3.08,1.85],[3.38,1.86],
[1.03,1.74],[1.33,1.75],[1.63,1.74],[1.93,1.75],[2.23,1.74],[2.53,1.75],[2.83,1.74],[3.13,1.75],[3.4,1.74],
[1.08,1.62],[1.38,1.61],[1.68,1.62],[1.98,1.61],[2.28,1.62],[2.58,1.61],[2.88,1.62],[3.18,1.61],
[1.13,1.5],[1.43,1.51],[1.73,1.5],[2.03,1.51],[2.33,1.5],[2.63,1.51],[2.93,1.5],[3.23,1.51],
[1.2,1.38],[1.5,1.37],[1.8,1.38],[2.1,1.37],[2.4,1.38],[2.7,1.37],[3.0,1.38],[3.28,1.37],
[1.3,1.26],[1.6,1.27],[1.9,1.26],[2.2,1.27],[2.5,1.26],[2.8,1.27],[3.1,1.26],
[1.45,1.14],[1.75,1.13],[2.05,1.14],[2.35,1.13],[2.65,1.14],[2.95,1.13],
[1.65,1.02],[1.95,1.03],[2.25,1.02],[2.55,1.03],[2.85,1.02],
[1.9,0.9],[2.2,0.91],[2.5,0.9]
];

const mcsX = mcsPoints.map(p => p[0]), mcsY = mcsPoints.map(p => p[1]);
const isX = isPoints.map(p => p[0]), isY = isPoints.map(p => p[1]);

const BLUE = '#0072BD';
const AXC = '#262626';
const TICKFONT = 'Liberation Serif, DejaVu Serif, serif';
const FONT = 'DejaVu Serif, Liberation Serif, serif';
const MSIZE = 6.5;

const traces = [
  {x: mcsX, y: mcsY, xaxis: 'x', yaxis: 'y', type: 'scatter', mode: 'markers',
   marker: {color: BLUE, size: MSIZE}, hoverinfo: 'skip'},
  {x: curveX, y: curveY, xaxis: 'x', yaxis: 'y', type: 'scatter', mode: 'lines',
   line: {color: '#ff0000', width: 4, shape: 'spline'}},
  {x: isX, y: isY, xaxis: 'x2', yaxis: 'y2', type: 'scatter', mode: 'markers',
   marker: {color: BLUE, size: MSIZE}, hoverinfo: 'skip'},
  {x: curveX, y: curveY, xaxis: 'x2', yaxis: 'y2', type: 'scatter', mode: 'lines',
   line: {color: '#ff0000', width: 4, shape: 'spline'}},
  {x: designX, y: designY, xaxis: 'x2', yaxis: 'y2', type: 'scatter', mode: 'markers',
   marker: {color: '#000000', size: 11}}
];

function xAxis(domain, anchor) {
  return {
    domain: domain, anchor: anchor, range: [-3.65, 6.12],
    tickvals: tickVals, ticktext: tickText, ticks: 'inside', ticklen: 6, tickcolor: AXC,
    showline: true, linecolor: AXC, linewidth: 1, mirror: 'ticks',
    showgrid: true, gridcolor: '#e1e1e1', zeroline: false,
    ticklabelstandoff: 10,
    tickfont: {family: TICKFONT, size: 24, color: AXC},
    title: {text: 'Uncertain parameter <i>ξ</i><sub>1</sub>', font: {family: FONT, size: 24, color: AXC}, standoff: 4}
  };
}
function yAxis(anchor) {
  return {
    domain: [0, 1], anchor: anchor, range: [-3.63, 6.2],
    tickvals: tickVals, ticktext: tickText, ticks: 'inside', ticklen: 6, tickcolor: AXC,
    showline: true, linecolor: AXC, linewidth: 1, mirror: 'ticks',
    showgrid: true, gridcolor: '#e1e1e1', zeroline: false,
    ticklabelstandoff: 4,
    tickfont: {family: TICKFONT, size: 24, color: AXC},
    title: {text: 'Uncertain parameter <i>ξ</i><sub>2</sub>', font: {family: FONT, size: 24, color: AXC}, standoff: 16}
  };
}

const layout = {
  width: 1186, height: 626,
  margin: {l: 87, r: 11, t: 7, b: 138},
  paper_bgcolor: '#ffffff', plot_bgcolor: '#ffffff',
  showlegend: false,
  xaxis: xAxis([0, 0.4403], 'y'),
  yaxis: yAxis('x'),
  xaxis2: xAxis([0.5607, 1], 'y2'),
  yaxis2: yAxis('x2'),
  annotations: [
    {xref: 'x', yref: 'y', x: -0.73, y: 5.57, text: 'ℱ', showarrow: false,
     font: {family: 'DejaVu Serif, serif', size: 28, color: '#000'}},
    {xref: 'x2', yref: 'y2', x: -0.76, y: 5.57, text: 'ℱ', showarrow: false,
     font: {family: 'DejaVu Serif, serif', size: 28, color: '#000'}},
    {xref: 'x2', yref: 'y2', x: 2.5, y: 2.55, xanchor: 'left', text: '<b><i>ξ</i></b><sup>*</sup>', showarrow: false,
     font: {family: 'Liberation Serif, serif', size: 38, color: '#000'}},
    {xref: 'paper', yref: 'paper', x: -0.0726, y: -0.245, xanchor: 'left', yanchor: 'middle',
     text: '<b>a)</b> <i>MCS samples</i>', showarrow: false, font: {family: FONT, size: 24, color: '#000'}},
    {xref: 'paper', yref: 'paper', x: 0.4835, y: -0.245, xanchor: 'left', yanchor: 'middle',
     text: '<b>b)</b> <i>IS samples</i>', showarrow: false, font: {family: FONT, size: 24, color: '#000'}}
  ]
};

Plotly.newPlot('chart', traces, layout, {displayModeBar: false, staticPlot: true});
</script>
</body></html>
